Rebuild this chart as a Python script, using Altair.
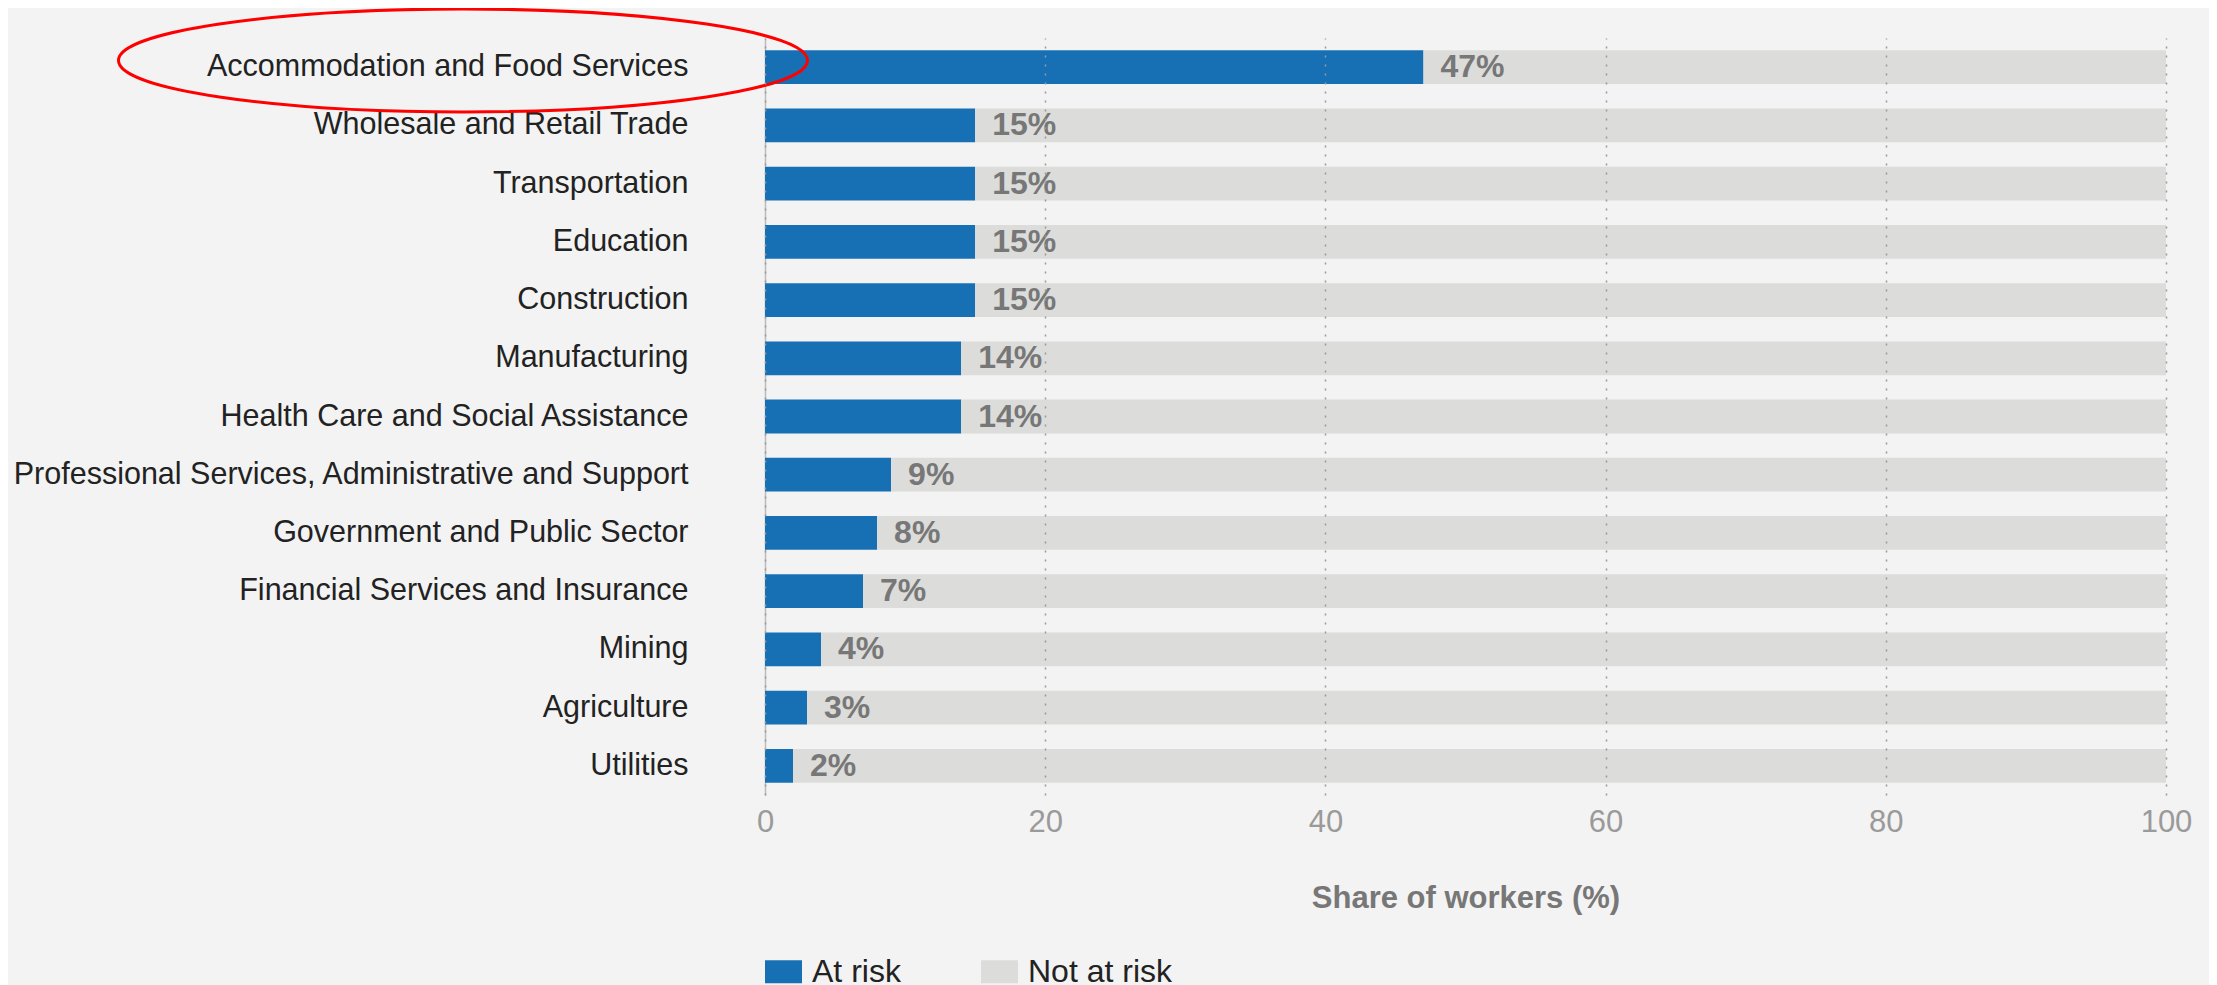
import altair as alt
import pandas as pd

categories = [
    "Accommodation and Food Services",
    "Wholesale and Retail Trade",
    "Transportation",
    "Education",
    "Construction",
    "Manufacturing",
    "Health Care and Social Assistance",
    "Professional Services, Administrative and Support",
    "Government and Public Sector",
    "Financial Services and Insurance",
    "Mining",
    "Agriculture",
    "Utilities",
]
at_risk = [47, 15, 15, 15, 15, 14, 14, 9, 8, 7, 4, 3, 2]
series = ["At risk", "Not at risk"]
colors = ["#1770b4", "#dcdcda"]
x_ticks = [0, 20, 40, 60, 80, 100]

rows = []
for c, v in zip(categories, at_risk):
    rows.append({"industry": c, "group": series[0], "share": v, "order": 0})
    rows.append({"industry": c, "group": series[1], "share": 100 - v, "order": 1})
long_df = pd.DataFrame(rows)
lab_df = pd.DataFrame({"industry": categories, "value": at_risk,
                       "label": [f"{v}%" for v in at_risk]})

FONT = "Liberation Sans"

y_enc = alt.Y("industry:N", sort=categories,
              scale=alt.Scale(paddingInner=0.42, paddingOuter=0.21),
              axis=alt.Axis(title=None, ticks=False, labelPadding=77,
                            labelFontSize=30.5, labelColor="#222222", labelFont=FONT,
                            domain=True, domainColor="#bbbbbb", domainWidth=1.5,
                            labelLimit=800))

bars = alt.Chart(long_df).mark_bar().encode(
    y=y_enc,
    x=alt.X("share:Q", stack="zero",
            scale=alt.Scale(domain=[0, 100], nice=False),
            axis=alt.Axis(values=x_ticks, title="Share of workers (%)",
                          titleFontSize=31, titleColor="#777777", titleFont=FONT,
                          titleFontWeight="bold", titlePadding=46,
                          labelFontSize=31, labelColor="#9a9a9a", labelFont=FONT,
                          labelPadding=12, ticks=False, domain=False,
                          grid=True, gridDash=[2, 7], gridColor="#999999",
                          gridWidth=1.5, zindex=1, labelFlush=False)),
    color=alt.Color("group:N",
                    scale=alt.Scale(domain=series, range=colors),
                    legend=alt.Legend(title=None, orient="none", legendX=0,
                                      legendY=915, direction="horizontal",
                                      labelFontSize=32, labelColor="#222222",
                                      labelFont=FONT, labelOffset=10,
                                      columnPadding=80,
                                      symbolType="M-1,-0.62H1V0.62H-1Z",
                                      symbolSize=1369, symbolStrokeWidth=0)),
    order=alt.Order("order:Q"),
)

labels = alt.Chart(lab_df).mark_text(
    align="left", baseline="middle", dx=17, fontSize=32, fontWeight="bold",
    color="#777777", font=FONT,
).encode(
    y=alt.Y("industry:N", sort=categories),
    x=alt.X("value:Q"),
    text="label:N",
)

ellipse = alt.Chart(pd.DataFrame({"industry": [categories[0]]})).mark_point(
    shape="M -1 0 A 1 0.1495 0 1 0 1 0 A 1 0.1495 0 1 0 -1 0 Z",
    size=474721, filled=False, stroke="#ff0000", strokeWidth=3, opacity=1,
).encode(
    x=alt.value(-302),
    y=alt.value(22.5),
)

chart = alt.layer(bars, labels, ellipse).properties(
    width=1401, height=757,
    padding={"left": 757, "top": 30, "right": 43, "bottom": 200},
    autosize=alt.AutoSizeParams(type="none"),
    background="#f3f3f3",
).configure_view(stroke=None)

chart.save("out.html", embed_options={"renderer": "svg", "actions": False})
